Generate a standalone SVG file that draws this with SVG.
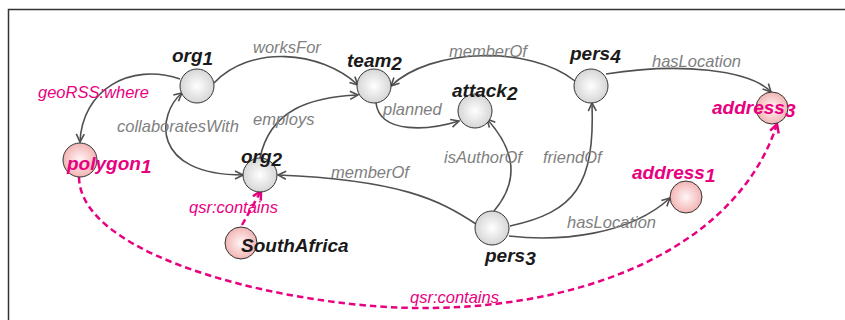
<svg xmlns="http://www.w3.org/2000/svg" width="845" height="320" viewBox="0 0 845 320">
<style>
.frame{stroke:#333;stroke-width:1.5;fill:none}
.node{stroke:#333;stroke-width:1}
.gray{fill:url(#gGray)}
.pink{fill:url(#gPink)}
.nl{font-family:"Liberation Sans",Arial,sans-serif;font-weight:bold;font-style:italic;font-size:19px;fill:#1a1a1a}
.nl.m{fill:#e8007f}
.el{font-family:"Liberation Sans",Arial,sans-serif;font-style:italic;font-size:16.5px;fill:#808080}
.el.m{fill:#e8007f}
.edge{fill:none;stroke:#505050;stroke-width:1.6;marker-end:url(#arr)}
.qsr{fill:none;stroke:#e8007f;stroke-width:2.5;stroke-dasharray:6.5 4;marker-end:url(#arrM)}
</style>
<defs>
<radialGradient id="gGray" cx="0.5" cy="0.5" r="0.5">
<stop offset="0" stop-color="#ffffff"/>
<stop offset="1" stop-color="#d6d6d6"/>
</radialGradient>
<radialGradient id="gPink" cx="0.5" cy="0.5" r="0.5">
<stop offset="0" stop-color="#fff6f6"/>
<stop offset="1" stop-color="#f3b4b4"/>
</radialGradient>
<marker id="arr" viewBox="0 0 10 10" refX="9" refY="5" markerWidth="10" markerHeight="10" markerUnits="userSpaceOnUse" orient="auto-start-reverse">
<path d="M1,1 L9,5 L1,9" fill="none" stroke="#505050" stroke-width="1.6"/>
</marker>
<marker id="arrM" viewBox="0 0 12 12" refX="10" refY="6" markerWidth="12" markerHeight="12" markerUnits="userSpaceOnUse" orient="auto">
<path d="M1.5,1.5 L10,6 L1.5,10.5" fill="none" stroke="#e8007f" stroke-width="2.5"/>
</marker>
</defs>
<rect width="845" height="320" fill="#fff"/>
<path class="frame" d="M8.5,320 L8.5,9.5 L845,9.5"/>

<g id="connectors">
<path class="edge" d="M180,79 C130,62 82,90 80,142"/>
<path class="edge" d="M214,83 C250,45 320,50 358,85"/>
<path class="edge" style="marker-start:url(#arr)" d="M182,93 C157,114 150,175 243,175"/>
<path class="edge" d="M260,158 C270,110 310,97 358,95"/>
<path class="edge" d="M376,103 C380,135 430,130 459,121"/>
<path class="edge" d="M575,81 C530,45 430,48 391,86"/>
<path class="edge" d="M606,74 C680,62 750,70 771,92"/>
<path class="edge" d="M494,211 C520,180 515,150 487,119"/>
<path class="edge" d="M510,226 C575,212 595,185 592,103"/>
<path class="edge" d="M476,224 C440,200 400,180 278,175"/>
<path class="edge" d="M509,236 C560,242 630,235 670,198"/>
<path class="qsr" d="M242,225 L261,191"/>
<path class="qsr" d="M79,177 C80,260 300,310 430,308 C600,306 740,240 777,124"/>
<text class="el" x="253" y="53">worksFor</text>
<text class="el" x="449" y="57">memberOf</text>
<text class="el" x="652" y="67">hasLocation</text>
<text class="el m" x="38" y="98">geoRSS:where</text>
<text class="el" x="117" y="132">collaboratesWith</text>
<text class="el" x="253" y="125">employs</text>
<text class="el" x="383" y="115">planned</text>
<text class="el" x="444" y="163">isAuthorOf</text>
<text class="el" x="543" y="163">friendOf</text>
<text class="el" x="331" y="178">memberOf</text>
<text class="el" x="567" y="228">hasLocation</text>
<text class="el m" x="189" y="213">qsr:contains</text>
<text class="el m" x="410" y="303">qsr:contains</text>
</g>

<g id="org1"><circle class="node gray" cx="197" cy="86" r="17"/><text class="nl" x="172" y="62">org<tspan dy="3">1</tspan></text></g>
<g id="team2"><circle class="node gray" cx="374" cy="86" r="17"/><text class="nl" x="347" y="67">team<tspan dy="3">2</tspan></text></g>
<g id="attack2"><circle class="node gray" cx="475" cy="111" r="17"/><text class="nl" x="452" y="97">attack<tspan dy="3">2</tspan></text></g>
<g id="pers4"><circle class="node gray" cx="591" cy="86" r="17"/><text class="nl" x="570" y="60">pers<tspan dy="3">4</tspan></text></g>
<g id="address3"><circle class="node pink" cx="772" cy="108" r="16"/><text class="nl m" x="712" y="114">address<tspan dy="3">3</tspan></text></g>
<g id="polygon1"><circle class="node pink" cx="80" cy="160" r="17"/><text class="nl m" x="67" y="170">polygon<tspan dy="3">1</tspan></text></g>
<g id="org2"><circle class="node gray" cx="260" cy="175" r="17"/><text class="nl" x="241" y="163">org<tspan dy="3">2</tspan></text></g>
<g id="SouthAfrica"><circle class="node pink" cx="241" cy="243" r="16"/><text class="nl" x="241" y="252">SouthAfrica</text></g>
<g id="pers3"><circle class="node gray" cx="492" cy="228" r="17"/><text class="nl" x="485" y="262">pers<tspan dy="3">3</tspan></text></g>
<g id="address1"><circle class="node pink" cx="686" cy="197" r="16"/><text class="nl m" x="632" y="179">address<tspan dy="3">1</tspan></text></g>
</svg>
